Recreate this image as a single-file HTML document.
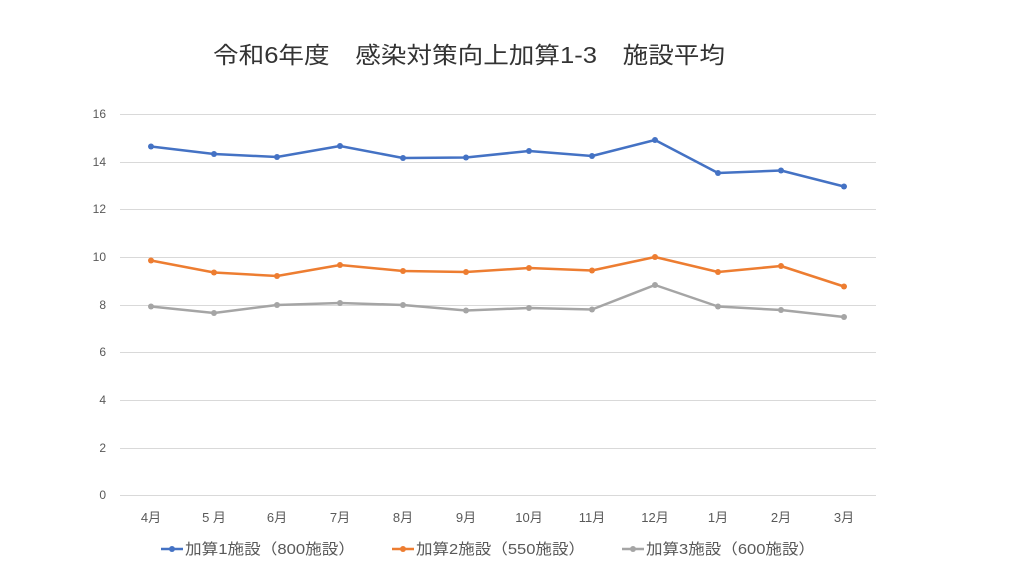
<!DOCTYPE html><html><head><meta charset="utf-8"><style>body{margin:0;background:#fff}svg{display:block}text{font-family:"Liberation Sans","Noto Sans CJK JP",sans-serif}</style></head><body>
<svg width="1024" height="576" xmlns="http://www.w3.org/2000/svg">
<text x="213" y="63" font-size="23" fill="#333" textLength="512" lengthAdjust="spacingAndGlyphs" xml:space="preserve">令和6年度　感染対策向上加算1-3　施設平均</text>
<g stroke="#d9d9d9" stroke-width="1">
<line x1="120" x2="876" y1="114.5" y2="114.5"/><line x1="120" x2="876" y1="162.5" y2="162.5"/><line x1="120" x2="876" y1="209.5" y2="209.5"/><line x1="120" x2="876" y1="257.5" y2="257.5"/><line x1="120" x2="876" y1="305.5" y2="305.5"/><line x1="120" x2="876" y1="352.5" y2="352.5"/><line x1="120" x2="876" y1="400.5" y2="400.5"/><line x1="120" x2="876" y1="448.5" y2="448.5"/><line x1="120" x2="876" y1="495.5" y2="495.5"/>
</g>
<g font-size="12" fill="#595959" text-anchor="end">
<text x="106" y="118">16</text><text x="106" y="166">14</text><text x="106" y="213">12</text><text x="106" y="261">10</text><text x="106" y="309">8</text><text x="106" y="356">6</text><text x="106" y="404">4</text><text x="106" y="452">2</text><text x="106" y="499">0</text>
</g>
<g font-size="13" fill="#595959" text-anchor="middle">
<text x="151" y="522">4月</text><text x="214" y="522">5 月</text><text x="277" y="522">6月</text><text x="340" y="522">7月</text><text x="403" y="522">8月</text><text x="466" y="522">9月</text><text x="529" y="522">10月</text><text x="592" y="522">11月</text><text x="655" y="522">12月</text><text x="718" y="522">1月</text><text x="781" y="522">2月</text><text x="844" y="522">3月</text>
</g>
<g fill="none" stroke-width="2.5" stroke-linejoin="round">
<polyline stroke="#4472c4" points="151,146.5 214,154 277,157 340,146 403,158 466,157.5 529,151 592,156 655,140 718,173 781,170.5 844,186.5"/>
<polyline stroke="#ed7d31" points="151,260.5 214,272.5 277,276 340,265 403,271 466,272 529,268 592,270.5 655,257 718,272 781,266 844,286.5"/>
<polyline stroke="#a5a5a5" points="151,306.5 214,313 277,305 340,303 403,305 466,310.5 529,308 592,309.5 655,285 718,306.5 781,310 844,317"/>
</g>
<g fill="#4472c4"><circle cx="151" cy="146.5" r="3"/><circle cx="214" cy="154" r="3"/><circle cx="277" cy="157" r="3"/><circle cx="340" cy="146" r="3"/><circle cx="403" cy="158" r="3"/><circle cx="466" cy="157.5" r="3"/><circle cx="529" cy="151" r="3"/><circle cx="592" cy="156" r="3"/><circle cx="655" cy="140" r="3"/><circle cx="718" cy="173" r="3"/><circle cx="781" cy="170.5" r="3"/><circle cx="844" cy="186.5" r="3"/></g>
<g fill="#ed7d31"><circle cx="151" cy="260.5" r="3"/><circle cx="214" cy="272.5" r="3"/><circle cx="277" cy="276" r="3"/><circle cx="340" cy="265" r="3"/><circle cx="403" cy="271" r="3"/><circle cx="466" cy="272" r="3"/><circle cx="529" cy="268" r="3"/><circle cx="592" cy="270.5" r="3"/><circle cx="655" cy="257" r="3"/><circle cx="718" cy="272" r="3"/><circle cx="781" cy="266" r="3"/><circle cx="844" cy="286.5" r="3"/></g>
<g fill="#a5a5a5"><circle cx="151" cy="306.5" r="3"/><circle cx="214" cy="313" r="3"/><circle cx="277" cy="305" r="3"/><circle cx="340" cy="303" r="3"/><circle cx="403" cy="305" r="3"/><circle cx="466" cy="310.5" r="3"/><circle cx="529" cy="308" r="3"/><circle cx="592" cy="309.5" r="3"/><circle cx="655" cy="285" r="3"/><circle cx="718" cy="306.5" r="3"/><circle cx="781" cy="310" r="3"/><circle cx="844" cy="317" r="3"/></g>
<g font-size="15" fill="#595959">
<line x1="161" x2="183" y1="549" y2="549" stroke="#4472c4" stroke-width="2.5"/><circle cx="172" cy="549" r="3" fill="#4472c4"/>
<text x="185" y="554" textLength="170" lengthAdjust="spacingAndGlyphs">加算1施設（800施設）</text>
<line x1="392" x2="414" y1="549" y2="549" stroke="#ed7d31" stroke-width="2.5"/><circle cx="403" cy="549" r="3" fill="#ed7d31"/>
<text x="416" y="554" textLength="169" lengthAdjust="spacingAndGlyphs">加算2施設（550施設）</text>
<line x1="622" x2="644" y1="549" y2="549" stroke="#a5a5a5" stroke-width="2.5"/><circle cx="633" cy="549" r="3" fill="#a5a5a5"/>
<text x="646" y="554" textLength="169" lengthAdjust="spacingAndGlyphs">加算3施設（600施設）</text>
</g>
</svg></body></html>
